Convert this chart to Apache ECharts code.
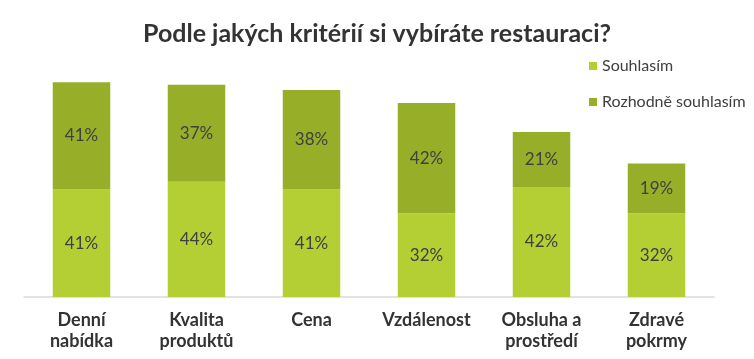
<!DOCTYPE html>
<html><head><meta charset="utf-8">
<script src="https://cdn.jsdelivr.net/npm/echarts@6/dist/echarts.min.js"></script>
<style>html,body{margin:0;padding:0;background:#fff}#c{width:754px;height:359px}</style>
</head><body><div id="c"></div>
<script>
const title = 'Podle jakých kritérií si vybíráte restauraci?';
const categories = ['Denní\nnabídka', 'Kvalita\nproduktů', 'Cena', 'Vzdálenost', 'Obsluha a\nprostředí', 'Zdravé\npokrmy'];
const seriesNames = ['Souhlasím', 'Rozhodně souhlasím'];
const souhlasim = [41, 44, 41, 32, 42, 32];
const rozhodne = [41, 37, 38, 42, 21, 19];
const colors = ['#b3cf33', '#97ae28'];
const font = 'Lato, "DejaVu Sans", sans-serif';

const chart = echarts.init(document.getElementById('c'), null, {renderer: 'canvas'});
const label = {show: true, position: 'inside', formatter: '{c}%', color: '#404040', fontSize: 17, fontFamily: font};
chart.setOption({
  animation: false,
  title: {text: title, left: 'center', top: 16, textStyle: {fontFamily: font, fontWeight: 'bold', fontSize: 25, color: '#333'}},
  legend: {orient: 'vertical', left: 584, top: 53, itemGap: 20, itemWidth: 8, itemHeight: 8, icon: 'rect',
    textStyle: {fontFamily: font, fontSize: 16, color: '#404040'}, data: seriesNames},
  grid: {left: 24, right: 40, top: 35, bottom: 62},
  xAxis: {type: 'category', data: categories,
    axisLine: {lineStyle: {color: '#d9d9d9', width: 1.5}}, axisTick: {show: false},
    axisLabel: {fontFamily: font, fontWeight: 'bold', fontSize: 18, color: '#333', margin: 13, lineHeight: 21, interval: 0}},
  yAxis: {type: 'value', min: 0, max: 100, show: false, splitLine: {show: false}},
  series: [
    {name: seriesNames[0], type: 'bar', stack: 's', data: souhlasim, barWidth: '50%', itemStyle: {color: colors[0]}, label: label},
    {name: seriesNames[1], type: 'bar', stack: 's', data: rozhodne, barWidth: '50%', itemStyle: {color: colors[1]}, label: label}
  ]
});
</script></body></html>
